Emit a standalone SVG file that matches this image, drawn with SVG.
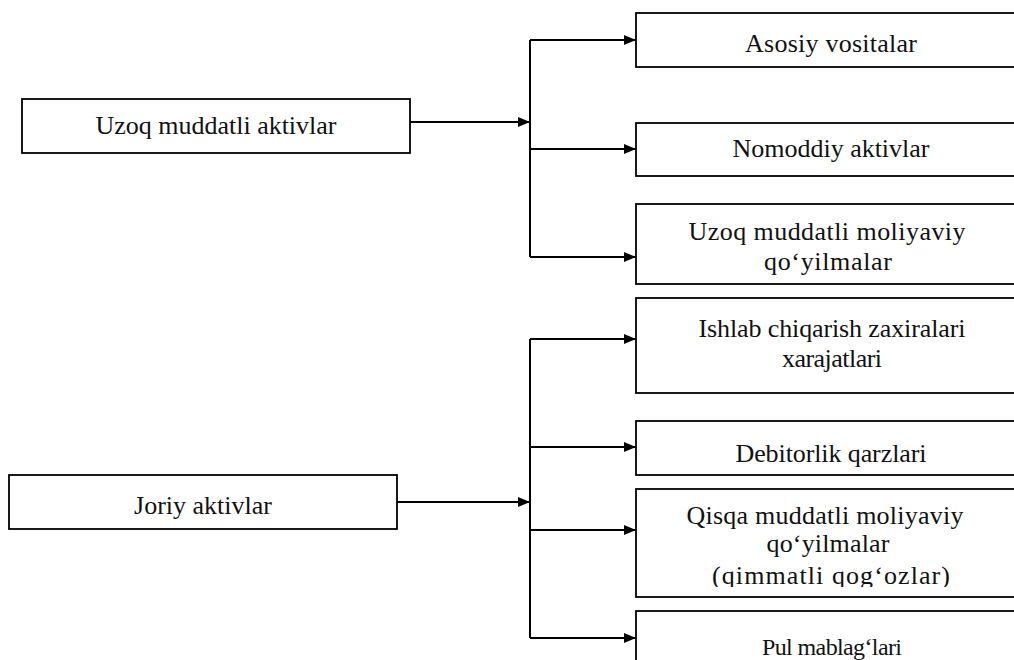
<svg xmlns="http://www.w3.org/2000/svg" width="1014" height="660" viewBox="0 0 1014 660">
<style>
.box{fill:#fff;stroke:#000;stroke-width:1.8}
.t{font-family:"Liberation Serif","Times New Roman",serif;font-size:26px;fill:#111;text-anchor:middle}
.c{fill:none;stroke:#000;stroke-width:2}
</style>
<defs>
<marker id="ah" markerUnits="userSpaceOnUse" markerWidth="12" markerHeight="10" refX="11" refY="5" orient="auto">
<path d="M0,0 L12,5 L0,10 z" fill="#000"/>
</marker>
<clipPath id="clipQ"><rect x="636" y="489" width="380" height="98"/></clipPath>
</defs>
<g id="connectors">
<path class="c" d="M410,122 H529" marker-end="url(#ah)"/>
<path class="c" d="M530,40 V257"/>
<path class="c" d="M530,40 H635" marker-end="url(#ah)"/>
<path class="c" d="M530,149 H635" marker-end="url(#ah)"/>
<path class="c" d="M530,257 H635" marker-end="url(#ah)"/>
<path class="c" d="M397,502 H529" marker-end="url(#ah)"/>
<path class="c" d="M530,339 V638"/>
<path class="c" d="M530,339 H635" marker-end="url(#ah)"/>
<path class="c" d="M530,447 H635" marker-end="url(#ah)"/>
<path class="c" d="M530,530 H635" marker-end="url(#ah)"/>
<path class="c" d="M530,638 H635" marker-end="url(#ah)"/>
</g>
<g id="uzoq-aktivlar">
<rect class="box" x="22" y="99" width="388" height="54"/>
<text class="t" x="216" y="134" textLength="241" lengthAdjust="spacing">Uzoq muddatli aktivlar</text>
</g>
<g id="joriy-aktivlar">
<rect class="box" x="9" y="475" width="388" height="54"/>
<text class="t" x="203" y="514" textLength="138" lengthAdjust="spacing">Joriy aktivlar</text>
</g>
<g id="asosiy">
<rect class="box" x="636" y="13" width="384" height="54"/>
<text class="t" x="831" y="52" textLength="172" lengthAdjust="spacing">Asosiy vositalar</text>
</g>
<g id="nomoddiy">
<rect class="box" x="636" y="123" width="384" height="53"/>
<text class="t" x="831" y="157" textLength="197" lengthAdjust="spacing">Nomoddiy aktivlar</text>
</g>
<g id="uzoq-qoyilmalar">
<rect class="box" x="636" y="204" width="384" height="80"/>
<text class="t" x="827" y="240" textLength="277" lengthAdjust="spacing">Uzoq muddatli moliyaviy</text>
<text class="t" x="828" y="270" textLength="128" lengthAdjust="spacing">qo‘yilmalar</text>
</g>
<g id="ishlab">
<rect class="box" x="636" y="298" width="384" height="95"/>
<text class="t" x="832" y="337" textLength="267" lengthAdjust="spacing">Ishlab chiqarish zaxiralari</text>
<text class="t" x="832" y="367" textLength="100" lengthAdjust="spacing">xarajatlari</text>
</g>
<g id="debitorlik">
<rect class="box" x="636" y="421" width="384" height="54"/>
<text class="t" x="831" y="462" textLength="191" lengthAdjust="spacing">Debitorlik  qarzlari</text>
</g>
<g id="qisqa">
<rect class="box" x="636" y="489" width="384" height="108"/>
<text class="t" x="825" y="524" textLength="277" lengthAdjust="spacing">Qisqa muddatli moliyaviy</text>
<text class="t" x="828" y="552" textLength="123" lengthAdjust="spacing">qo‘yilmalar</text>
<g clip-path="url(#clipQ)">
<text class="t" x="831" y="584" textLength="238" lengthAdjust="spacing">(qimmatli  qog‘ozlar)</text>
</g>
</g>
<g id="pul">
<rect class="box" x="636" y="611" width="384" height="60"/>
<text class="t" x="832" y="655" style="font-size:24px" textLength="140" lengthAdjust="spacing">Pul mablag‘lari</text>
</g>
</svg>
